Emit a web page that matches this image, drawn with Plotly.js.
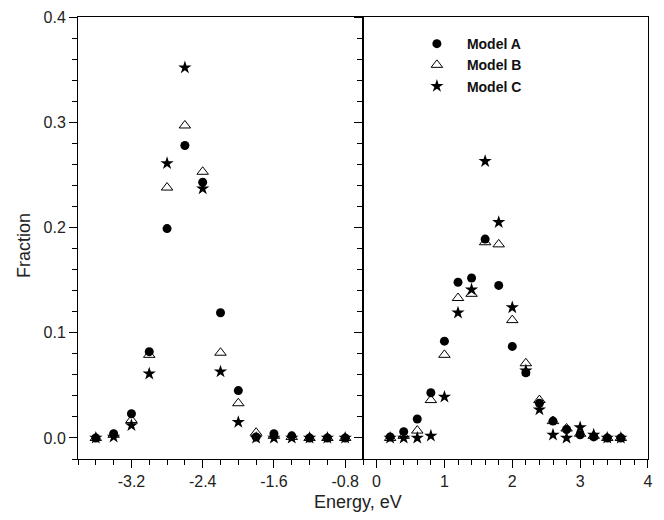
<!DOCTYPE html>
<html>
<head>
<meta charset="utf-8">
<script src="https://cdn.plot.ly/plotly-3.0.1.min.js"></script>
<style>html,body{margin:0;padding:0;background:#fff;}#chart{width:664px;height:520px;}</style>
</head>
<body>
<div id="chart"></div>
<script>
// Left panel (negative energies)
const energyLeft = [-3.6, -3.4, -3.2, -3.0, -2.8, -2.6, -2.4, -2.2, -2.0, -1.8, -1.6, -1.4, -1.2, -1.0, -0.8];
const modelA_left = [0.000, 0.004, 0.023, 0.082, 0.199, 0.278, 0.243, 0.119, 0.045, 0.001, 0.004, 0.002, 0.000, 0.000, 0.000];
const modelB_left = [0.000, 0.003, 0.017, 0.079, 0.238, 0.297, 0.253, 0.081, 0.033, 0.005, 0.002, 0.001, 0.000, 0.000, 0.000];
const modelC_left = [0.000, 0.001, 0.012, 0.061, 0.261, 0.352, 0.237, 0.063, 0.015, 0.000, 0.000, 0.000, 0.000, 0.000, 0.000];

// Right panel (positive energies)
const energyRight = [0.2, 0.4, 0.6, 0.8, 1.0, 1.2, 1.4, 1.6, 1.8, 2.0, 2.2, 2.4, 2.6, 2.8, 3.0, 3.2, 3.4, 3.6];
const modelA_right = [0.001, 0.006, 0.018, 0.043, 0.092, 0.148, 0.152, 0.189, 0.145, 0.087, 0.062, 0.033, 0.016, 0.008, 0.003, 0.001, 0.000, 0.000];
const modelB_right = [0.000, 0.002, 0.007, 0.036, 0.079, 0.133, 0.137, 0.186, 0.184, 0.112, 0.071, 0.036, 0.016, 0.009, 0.004, 0.002, 0.000, 0.000];
const modelC_right = [0.000, 0.000, 0.000, 0.002, 0.039, 0.119, 0.141, 0.263, 0.205, 0.124, 0.064, 0.027, 0.003, 0.000, 0.010, 0.003, 0.000, 0.000];

const seriesNames = ["Model A", "Model B", "Model C"];
const ticksLeft = [-3.2, -2.4, -1.6, -0.8];
const tickTextLeft = ["-3.2", "-2.4", "-1.6", "-0.8"];
const ticksRight = [0, 1, 2, 3, 4];
const ticksY = [0, 0.1, 0.2, 0.3, 0.4];
const tickTextY = ["0.0", "0.1", "0.2", "0.3", "0.4"];

const markerA = {symbol: "circle", size: 9, color: "#000"};
const markerB = {symbol: "triangle-up-open", size: 10, color: "#000", line: {width: 1, color: "#000"}};
const markerC = {symbol: "star", size: 10, color: "#000", line: {width: 0}};
const markers = [markerA, markerB, markerC];
const leftData = [modelA_left, modelB_left, modelC_left];
const rightData = [modelA_right, modelB_right, modelC_right];

const traces = [];
for (let i = 0; i < 3; i++) {
  traces.push({x: energyLeft, y: leftData[i], type: "scatter", mode: "markers", name: seriesNames[i],
    legendgroup: seriesNames[i], showlegend: false, marker: markers[i], xaxis: "x", yaxis: "y"});
}
for (let i = 0; i < 3; i++) {
  traces.push({x: energyRight, y: rightData[i], type: "scatter", mode: "markers", name: seriesNames[i],
    legendgroup: seriesNames[i], showlegend: true, marker: markers[i], xaxis: "x2", yaxis: "y2"});
}

const font = {family: "Liberation Sans, Arial, sans-serif", color: "#000"};
const lineC = "#000";
const commonX = {showline: true, linecolor: lineC, linewidth: 1, mirror: true, ticks: "outside", ticklen: 8,
  tickwidth: 1, tickcolor: lineC, showgrid: false, zeroline: false, tickfont: {size: 16, family: font.family, color: "#222"},
  minor: {dtick: 0.2, ticks: "outside", ticklen: 5, tickwidth: 1, tickcolor: lineC, showgrid: false}};

const layout = {
  width: 664, height: 520,
  margin: {l: 78, r: 16, t: 17, b: 61},
  paper_bgcolor: "#fff", plot_bgcolor: "#fff",
  font: font,
  xaxis: Object.assign({}, commonX, {domain: [0, 0.5], range: [-3.8, -0.6], tickmode: "array",
    tickvals: ticksLeft, ticktext: tickTextLeft, anchor: "y", minor: Object.assign({}, commonX.minor, {tick0: -3.8})}),
  xaxis2: Object.assign({}, commonX, {domain: [0.5, 1], range: [-0.2, 4.0001], tickmode: "array",
    tickvals: ticksRight, anchor: "y2", minor: Object.assign({}, commonX.minor, {tick0: -0.2})}),
  yaxis: {domain: [0, 1], range: [-0.02, 0.4001], anchor: "x", showline: true, linecolor: lineC, linewidth: 1,
    mirror: true, ticks: "outside", ticklen: 8, tickwidth: 1, tickcolor: lineC, showgrid: false, zeroline: false,
    tickmode: "array", tickvals: ticksY, ticktext: tickTextY, tickfont: {size: 16, family: font.family, color: "#222"},
    minor: {dtick: 0.02, tick0: 0, ticks: "outside", ticklen: 5, tickwidth: 1, tickcolor: lineC, showgrid: false}},
  yaxis2: {domain: [0, 1], range: [-0.02, 0.4001], anchor: "x2", side: "left", showline: true, linecolor: lineC,
    linewidth: 1, mirror: true, ticks: "outside", ticklen: 8, tickwidth: 1, tickcolor: lineC, showgrid: false,
    zeroline: false, showticklabels: false, tickmode: "array", tickvals: ticksY,
    minor: {dtick: 0.02, tick0: 0, ticks: "outside", ticklen: 5, tickwidth: 1, tickcolor: lineC, showgrid: false}},
  showlegend: true,
  legend: {x: 0.577, y: 0.975, xanchor: "left", yanchor: "top", bgcolor: "rgba(0,0,0,0)", borderwidth: 0,
    itemwidth: 50, tracegroupgap: 0, font: {size: 14, family: font.family, color: "#111", weight: "bold"}},
  annotations: [
    {text: "Energy, eV", xref: "paper", yref: "paper", x: 0.491, y: -0.097, xanchor: "center", yanchor: "middle",
      showarrow: false, font: {size: 18, family: font.family, color: "#222"}},
    {text: "Fraction", xref: "paper", yref: "paper", x: -0.0947, y: 0.482, xanchor: "center", yanchor: "middle",
      textangle: -90, showarrow: false, font: {size: 18, family: font.family, color: "#222"}}
  ]
};

Plotly.newPlot("chart", traces, layout, {displayModeBar: false, staticPlot: true});
</script>
</body>
</html>
